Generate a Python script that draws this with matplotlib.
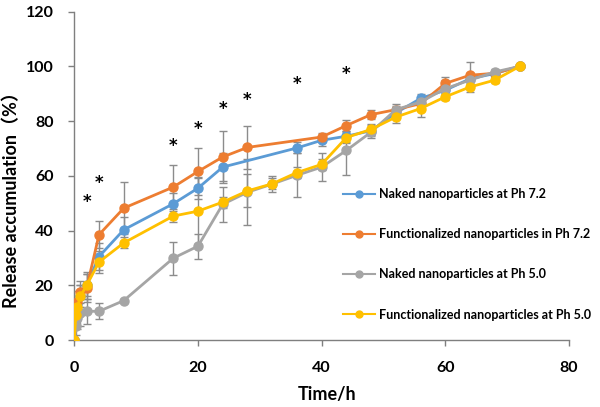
import matplotlib
matplotlib.use("Agg")
import matplotlib.pyplot as plt
from matplotlib.lines import Line2D

plt.rcParams['font.family'] = ['Lato', 'Noto Sans CJK SC', 'DejaVu Sans']
plt.rcParams['font.weight'] = 'bold'

# release data (%)
t_blue = [0, 0.25, 0.5, 1, 2, 4, 8, 16, 20, 24, 36, 40, 44, 48, 52, 56, 60, 64, 68, 72]
blue = [0, 9, 13, 16, 20, 30.5, 40.3, 49.8, 55.5, 63.2, 70.2, 73, 74.5, 76.5, 83, 88.3, 91.3, 95.5, 97.4, 100]
blue_err = [0, 2, 3, 4, 5, 5, 4.5, 4, 4, 5, 2, 2, 2, 2, 2, 1.8, 2, 2, 1, 0]

t_orange = [0, 0.25, 0.5, 1, 2, 4, 8, 16, 20, 24, 28, 40, 44, 48, 52, 56, 60, 64, 68, 72]
orange = [0, 10, 14, 17.5, 19, 38.5, 48.2, 55.9, 61.6, 66.9, 70.4, 74.2, 78.4, 82.4, 84.2, 86.4, 93.8, 96.8, 97.5, 100]
orange_err = [0, 3, 4, 4, 5, 5, 9.5, 8, 8.7, 9.5, 8, 1.5, 2, 1.5, 1.5, 2, 2.2, 5, 1, 0]

t_gray = [0, 0.25, 0.5, 1, 2, 4, 8, 16, 20, 24, 28, 32, 36, 40, 44, 48, 52, 56, 60, 64, 68, 72]
gray = [0, 5, 8, 10, 10.5, 10.5, 14.4, 29.9, 34.3, 49.6, 54, 57, 60.2, 63.2, 69.3, 76, 84.2, 87, 91.9, 95, 98, 100]
gray_err = [0, 3, 4, 5, 4.5, 3, 0.5, 6, 4.6, 6.5, 12, 3, 8, 5, 9, 2, 2, 2, 3, 2, 1, 0]

t_yellow = [0, 0.25, 0.5, 1, 2, 4, 8, 16, 20, 24, 28, 32, 36, 40, 44, 48, 52, 56, 60, 64, 68, 72]
yellow = [0, 9, 12, 16, 20, 28.5, 35.5, 45.3, 47.1, 50.4, 54.5, 57.1, 61.2, 64.2, 74, 77, 81.5, 84.6, 88.9, 92.5, 95, 100]
yellow_err = [0, 3, 4, 4, 4, 4, 2, 2, 12, 2, 6, 2, 2, 2, 2, 2, 2, 3, 1.2, 2, 1, 0]

labels = ["Naked nanoparticles at Ph 7.2",
          "Functionalized nanoparticles in Ph 7.2",
          "Naked nanoparticles at Ph 5.0",
          "Functionalized nanoparticles at Ph 5.0"]
colors = ['#5B9BD5', '#ED7D31', '#A5A5A5', '#FFC000']

# significance marks
sig_x = [2, 4, 16, 20, 24, 28, 36, 44]
sig_y = [50.5, 57.4, 70.9, 77.1, 84.5, 87.9, 93.5, 97.4]

fig = plt.figure(figsize=(6, 4.07), dpi=100)
ax = fig.add_axes([0.1238, 0.1646, 0.8245, 0.8066])

series = [(t_blue, blue, blue_err), (t_orange, orange, orange_err),
          (t_gray, gray, gray_err), (t_yellow, yellow, yellow_err)]
for (t, v, e), c in zip(series, colors):
    ax.errorbar(t, v, yerr=e, fmt='none', ecolor='#8c8c8c', elinewidth=1, capsize=3, capthick=1, zorder=2)
for (t, v, e), c in zip(series, colors):
    ax.plot(t, v, color=c, lw=2, marker='o', ms=6.5, zorder=3)

for x, y in zip(sig_x, sig_y):
    ax.text(x, y, '*', ha='center', va='center', fontsize=12, fontweight='bold',
            family='DejaVu Sans', color='black')

ax.set_xlim(0, 80)
ax.set_ylim(0, 120)
ax.set_xticks(range(0, 81, 20))
ax.set_yticks(range(0, 121, 20))
for s in ['top', 'right']:
    ax.spines[s].set_visible(False)
for s in ['left', 'bottom']:
    ax.spines[s].set_color('#7f7f7f')
    ax.spines[s].set_linewidth(1)
ax.tick_params(axis='both', colors='#7f7f7f', length=4, width=1, labelsize=11.5, labelcolor='black')
ax.tick_params(axis='x', pad=11)
ax.tick_params(axis='y', pad=11)

ax.set_xlabel('Time/h', fontsize=13, fontweight='bold')
ax.xaxis.set_label_coords(0.51, -0.14)
ax.set_ylabel('Release accumulation（%）', fontsize=13, fontweight='bold')
ax.yaxis.set_label_coords(-0.11, 0.44)

handles = [Line2D([], [], color=c, lw=1.5, marker='o', ms=5) for c in colors]
ax.legend(handles, labels, loc='lower left', bbox_to_anchor=(0.52, 0.025), frameon=False,
          prop={'size': 9, 'weight': 'bold'}, labelspacing=2.25, handlelength=2.6,
          handletextpad=0.3)

fig.savefig('out.png', dpi=100)
